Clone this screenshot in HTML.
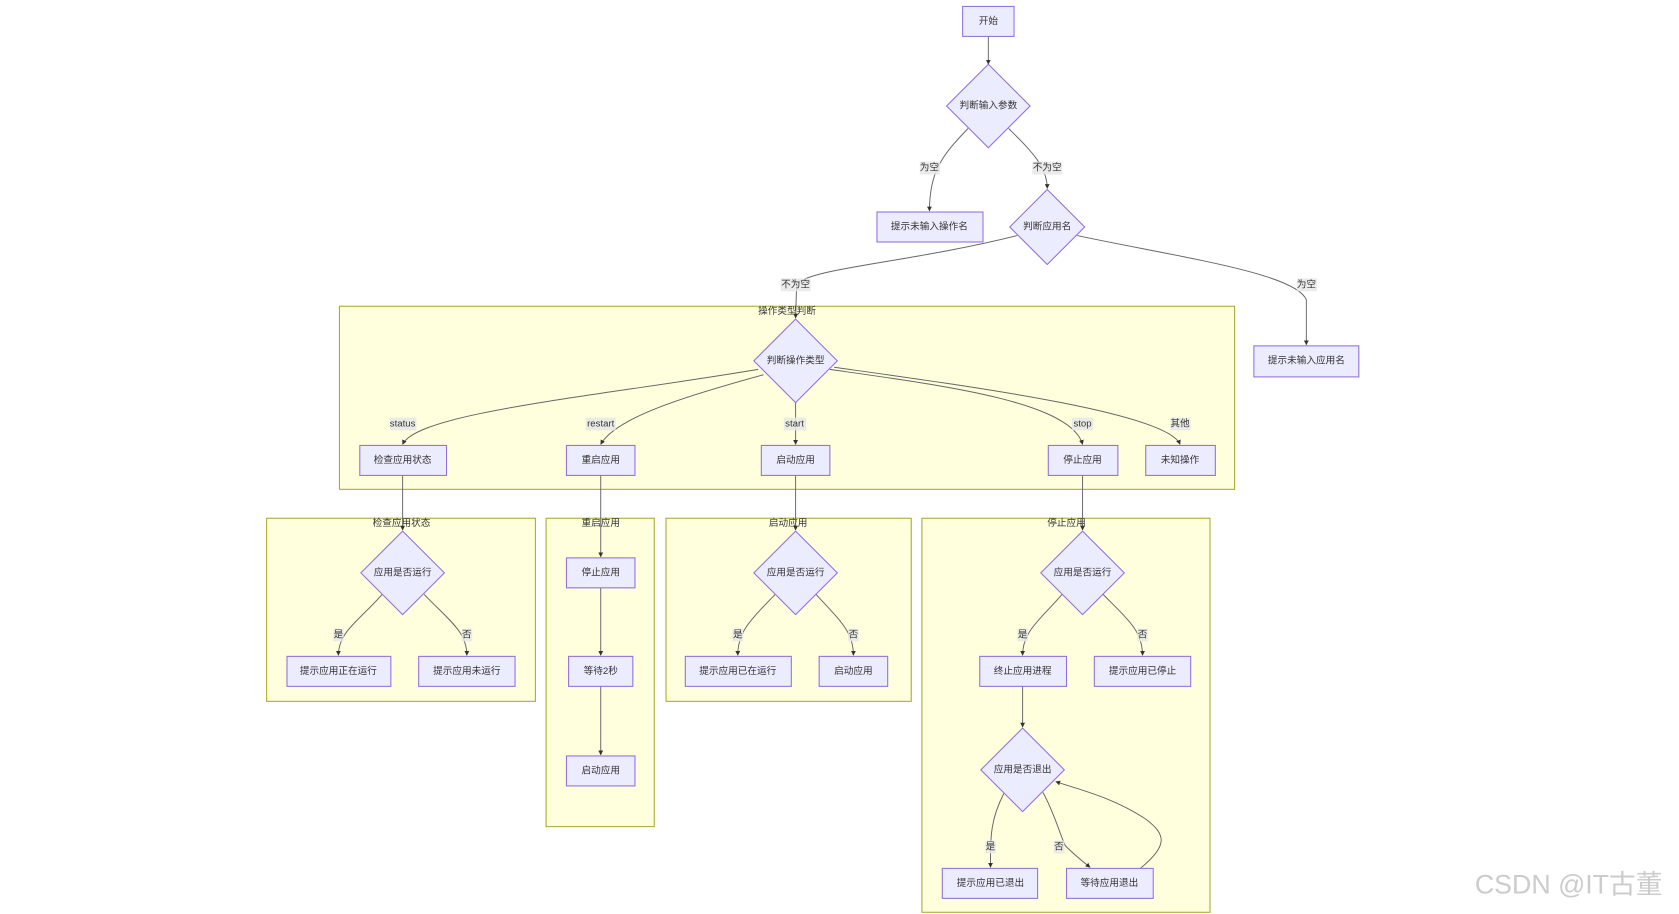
<!DOCTYPE html>
<html><head><meta charset="utf-8"><style>
html,body{margin:0;padding:0;background:#fff;}
svg{display:block;}
text{font-family:"Liberation Sans","Noto Sans CJK SC",sans-serif;font-size:9px;fill:#333;text-anchor:middle;dominant-baseline:central;}
.n{fill:#ECECFF;stroke:#9370DB;stroke-width:1;}
.c{fill:#ffffde;stroke:#aaaa33;stroke-width:1;}
.e{fill:none;stroke:#666;stroke-width:0.9;marker-end:url(#a);}
.lb{fill:#e8e8e8;opacity:0.85;}
</style></head><body>
<svg width="1679" height="914" viewBox="0 0 1568 853.6" xmlns="http://www.w3.org/2000/svg">
<defs><marker id="a" viewBox="0 0 10 10" refX="9" refY="5" markerWidth="5" markerHeight="5" orient="auto"><path d="M0,0L10,5L0,10z" fill="#333"/></marker></defs>

<!-- clusters -->
<rect class="c" x="317" y="286" width="836" height="171"/>
<text x="735" y="291">操作类型判断</text>
<rect class="c" x="249" y="484" width="251" height="171"/>
<text x="375" y="489">检查应用状态</text>
<rect class="c" x="510" y="484" width="101" height="288"/>
<text x="561" y="489">重启应用</text>
<rect class="c" x="622" y="484" width="229" height="171"/>
<text x="736" y="489">启动应用</text>
<rect class="c" x="861" y="484" width="269" height="368"/>
<text x="996" y="489">停止应用</text>

<!-- edges -->
<path class="e" d="M923,34 L923,60"/>
<path class="e" d="M904,120 C880,145 868,160 868,197"/>
<path class="e" d="M942,120 C962,140 978,155 978,176"/>
<path class="e" d="M950,220 C850,245 760,250 744,265 L743,297"/>
<path class="e" d="M1006,220 C1100,240 1210,255 1220,280 L1220,322"/>
<path class="e" d="M708,345 C560,370 390,385 376,415"/>
<path class="e" d="M713,350 C640,370 575,390 561,415"/>
<path class="e" d="M743,376 L743,415"/>
<path class="e" d="M775,345 C880,360 1000,375 1011,415"/>
<path class="e" d="M779,343 C900,360 1090,385 1102,415"/>
<path class="e" d="M376,444 L376,495"/>
<path class="e" d="M561,444 L561,520"/>
<path class="e" d="M743,444 L743,495"/>
<path class="e" d="M1011,444 L1011,495"/>
<path class="e" d="M357,555 C335,580 316,590 316,612"/>
<path class="e" d="M396,555 C420,580 436,590 436,612"/>
<path class="e" d="M561,549 L561,612"/>
<path class="e" d="M561,641 L561,705"/>
<path class="e" d="M724,555 C700,580 689,590 689,612"/>
<path class="e" d="M762,555 C785,580 797,590 797,612"/>
<path class="e" d="M992,555 C970,580 955,590 955,612"/>
<path class="e" d="M1030,555 C1055,580 1067,590 1067,612"/>
<path class="e" d="M955,641 L955,679"/>
<path class="e" d="M938,740 C925,765 925,780 925,810"/>
<path class="e" d="M974,740 C985,760 990,780 995,790 C1005,800 1012,805 1018,810"/>
<path class="e" d="M1065,811 C1090,790 1090,780 1070,765 C1040,745 1010,738 986,730"/>

<!-- edge labels -->
<g>
<rect class="lb" x="859" y="151" width="19" height="12"/><text x="868" y="157">为空</text>
<rect class="lb" x="964" y="151" width="28" height="12"/><text x="978" y="157">不为空</text>
<rect class="lb" x="729" y="260" width="28" height="12"/><text x="743" y="266">不为空</text>
<rect class="lb" x="1211" y="260" width="19" height="12"/><text x="1220" y="266">为空</text>
<rect class="lb" x="364" y="390" width="25" height="12"/><text x="376" y="396">status</text>
<rect class="lb" x="547" y="390" width="28" height="12"/><text x="561" y="396">restart</text>
<rect class="lb" x="732" y="390" width="21" height="12"/><text x="742" y="396">start</text>
<rect class="lb" x="1001" y="390" width="20" height="12"/><text x="1011" y="396">stop</text>
<rect class="lb" x="1093" y="390" width="19" height="12"/><text x="1102" y="396">其他</text>
<rect class="lb" x="311" y="587" width="10" height="12"/><text x="316" y="593">是</text>
<rect class="lb" x="431" y="587" width="10" height="12"/><text x="436" y="593">否</text>
<rect class="lb" x="684" y="587" width="10" height="12"/><text x="689" y="593">是</text>
<rect class="lb" x="792" y="587" width="10" height="12"/><text x="797" y="593">否</text>
<rect class="lb" x="950" y="587" width="10" height="12"/><text x="955" y="593">是</text>
<rect class="lb" x="1062" y="587" width="10" height="12"/><text x="1067" y="593">否</text>
<rect class="lb" x="920" y="785" width="10" height="12"/><text x="925" y="791">是</text>
<rect class="lb" x="984" y="785" width="10" height="12"/><text x="989" y="791">否</text>
</g>

<!-- nodes -->
<rect class="n" x="899" y="6" width="48" height="28"/><text x="923" y="20">开始</text>
<polygon class="n" points="923,60 962,99 923,138 884,99"/><text x="923" y="99">判断输入参数</text>
<rect class="n" x="819" y="198" width="99" height="28"/><text x="868" y="212">提示未输入操作名</text>
<polygon class="n" points="978,177 1013,212 978,247 943,212"/><text x="978" y="212">判断应用名</text>
<rect class="n" x="1171" y="323" width="98" height="29"/><text x="1220" y="337">提示未输入应用名</text>
<polygon class="n" points="743,298 782,337 743,376 704,337"/><text x="743" y="337">判断操作类型</text>
<rect class="n" x="336" y="416" width="81" height="28"/><text x="376" y="430">检查应用状态</text>
<rect class="n" x="529" y="416" width="64" height="28"/><text x="561" y="430">重启应用</text>
<rect class="n" x="711" y="416" width="64" height="28"/><text x="743" y="430">启动应用</text>
<rect class="n" x="979" y="416" width="65" height="28"/><text x="1011" y="430">停止应用</text>
<rect class="n" x="1070" y="416" width="65" height="28"/><text x="1102" y="430">未知操作</text>

<polygon class="n" points="376,496 415,535 376,574 337,535"/><text x="376" y="535">应用是否运行</text>
<rect class="n" x="268" y="613" width="97" height="28"/><text x="316" y="627">提示应用正在运行</text>
<rect class="n" x="391" y="613" width="90" height="28"/><text x="436" y="627">提示应用未运行</text>

<rect class="n" x="529" y="521" width="64" height="28"/><text x="561" y="535">停止应用</text>
<rect class="n" x="531" y="613" width="60" height="28"/><text x="561" y="627">等待2秒</text>
<rect class="n" x="529" y="706" width="64" height="28"/><text x="561" y="720">启动应用</text>

<polygon class="n" points="743,496 782,535 743,574 704,535"/><text x="743" y="535">应用是否运行</text>
<rect class="n" x="640" y="613" width="99" height="28"/><text x="689" y="627">提示应用已在运行</text>
<rect class="n" x="765" y="613" width="64" height="28"/><text x="797" y="627">启动应用</text>

<polygon class="n" points="1011,496 1050,535 1011,574 972,535"/><text x="1011" y="535">应用是否运行</text>
<rect class="n" x="915" y="613" width="81" height="28"/><text x="955" y="627">终止应用进程</text>
<rect class="n" x="1022" y="613" width="90" height="28"/><text x="1067" y="627">提示应用已停止</text>
<polygon class="n" points="955,680 994,719 955,758 916,719"/><text x="955" y="719">应用是否退出</text>
<rect class="n" x="880" y="811" width="89" height="28"/><text x="925" y="825">提示应用已退出</text>
<rect class="n" x="996" y="811" width="81" height="28"/><text x="1036" y="825">等待应用退出</text>

<text x="1465" y="826" style="font-size:25px;fill:#ccc;">CSDN @IT古董</text>
</svg>
</body></html>
